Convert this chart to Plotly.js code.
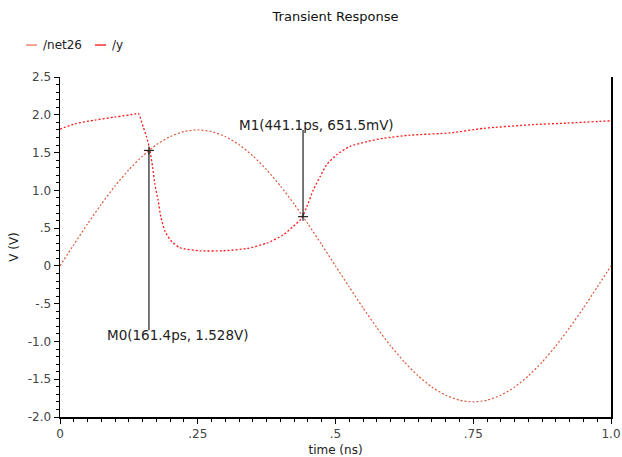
<!DOCTYPE html>
<html>
<head>
<meta charset="utf-8">
<script src="https://cdn.plot.ly/plotly-3.0.1.min.js"></script>
<style>html,body{margin:0;padding:0;background:#fff;}#chart{width:622px;height:457px;}</style>
</head>
<body>
<div id="chart"></div>
<script>
// ---- data ----
const seriesNames = ["/net26", "/y"];

const tNet26 = [0, 0.025, 0.05, 0.075, 0.1, 0.125, 0.15, 0.175, 0.2, 0.225, 0.25, 0.275, 0.3, 0.325, 0.35, 0.375, 0.4, 0.425, 0.45, 0.475, 0.5,
                0.525, 0.55, 0.575, 0.6, 0.625, 0.65, 0.675, 0.7, 0.725, 0.75, 0.775, 0.8, 0.825, 0.85, 0.875, 0.9, 0.925, 0.95, 0.975, 1.0];
const vNet26 = [0, 0.28, 0.556, 0.817, 1.058, 1.273, 1.456, 1.604, 1.712, 1.778, 1.80, 1.778, 1.712, 1.604, 1.456, 1.273, 1.058, 0.817, 0.556, 0.28, 0,
                -0.28, -0.556, -0.817, -1.058, -1.273, -1.456, -1.604, -1.712, -1.778, -1.80, -1.778, -1.712, -1.604, -1.456, -1.273, -1.058, -0.817, -0.556, -0.28, 0];

const tY = [0, 0.027, 0.0635, 0.1, 0.136, 0.142, 0.151, 0.157, 0.163, 0.168, 0.172, 0.178, 0.183, 0.191, 0.203, 0.218, 0.254, 0.296, 0.339, 0.375, 0.405, 0.423, 0.4386,
            0.448, 0.46, 0.472, 0.484, 0.502, 0.526, 0.557, 0.587, 0.635, 0.708, 0.768, 0.859, 0.92, 1.0];
const vY = [1.81, 1.88, 1.93, 1.97, 2.01, 2.02, 1.84, 1.71, 1.54, 1.31, 1.09, 0.87, 0.65, 0.45, 0.32, 0.24, 0.20, 0.20, 0.23, 0.30, 0.41, 0.52, 0.63,
            0.785, 1.01, 1.18, 1.34, 1.47, 1.58, 1.645, 1.69, 1.73, 1.76, 1.82, 1.87, 1.89, 1.92];

// markers
const markerNames = ["M0", "M1"];
const markerT = [0.1614, 0.4411];
const markerV = [1.528, 0.6515];
const markerLabels = ["M0(161.4ps, 1.528V)", "M1(441.1ps, 651.5mV)"];
const markerLabelV = [-0.92, 1.87];
const markerLabelT = [0.214, 0.4655];
const markerLineEndV = [-0.85, 1.80];

// ticks
const xTickVals = [0, 0.25, 0.5, 0.75, 1.0];
const xTickText = ["0", ".25", ".5", ".75", "1.0"];
const yTickVals = [2.5, 2.0, 1.5, 1.0, 0.5, 0, -0.5, -1.0, -1.5, -2.0];
const yTickText = ["2.5", "2.0", "1.5", "1.0", ".5", "0", "-.5", "-1.0", "-1.5", "-2.0"];

const colors = ["#d95a3c", "#ff1a1a"];
const legendColors = ["#ec8a72", "#ff3030"];
const FONT = "DejaVu Sans, Verdana, sans-serif";

const traces = [
  {x: tNet26, y: vNet26, name: seriesNames[0], mode: "lines", line: {color: colors[0], width: 1.2, dash: "2px,2px", shape: "spline", smoothing: 0.6}, showlegend: false, hoverinfo: "skip"},
  {x: tY, y: vY, name: seriesNames[1], mode: "lines", line: {color: colors[1], width: 1.3, dash: "2px,2px", shape: "spline", smoothing: 0.6}, showlegend: false, hoverinfo: "skip"}
];

const shapes = [];
const annotations = [];
for (let i = 0; i < markerT.length; i++) {
  shapes.push({type: "line", xref: "x", yref: "y", x0: markerT[i], x1: markerT[i], y0: markerV[i], y1: markerLineEndV[i], line: {color: "#555", width: 1.6}});
  shapes.push({type: "line", xref: "x", yref: "y", xsizemode: "pixel", xanchor: markerT[i], x0: -5, x1: 5, y0: markerV[i], y1: markerV[i], line: {color: "#222", width: 1.2}});
  shapes.push({type: "line", xref: "x", yref: "y", xsizemode: "pixel", ysizemode: "pixel", xanchor: markerT[i], yanchor: markerV[i], x0: 0, x1: 0, y0: -4, y1: 4, line: {color: "#222", width: 1.2}});
  annotations.push({x: markerLabelT[i], y: markerLabelV[i], xref: "x", yref: "y", text: markerLabels[i], showarrow: false, font: {family: FONT, size: 13.5, color: "#222"}, xanchor: "center", yanchor: "middle"});
}

// legend (drawn manually to match the compact reference legend)
const legendX = [-0.0617, 0.0635];
const legendLineLen = 0.02;
for (let i = 0; i < seriesNames.length; i++) {
  shapes.push({type: "line", xref: "paper", yref: "paper", x0: legendX[i], x1: legendX[i] + legendLineLen, y0: 1.094, y1: 1.094, line: {color: legendColors[i], width: 1.5}});
  annotations.push({x: legendX[i] + legendLineLen + 0.008, y: 1.094, xref: "paper", yref: "paper", text: seriesNames[i], showarrow: false, xanchor: "left", yanchor: "middle", font: {family: FONT, size: 12, color: "#222"}});
}

const axisCommon = {
  showgrid: false, zeroline: false, showline: true, linecolor: "#000", linewidth: 1.5,
  ticks: "outside", ticklen: 5, tickwidth: 1, tickcolor: "#000",
  tickfont: {family: FONT, size: 12, color: "#444"}, tickmode: "array"
};

const layout = {
  width: 622, height: 457,
  margin: {l: 60, r: 11, t: 77, b: 40},
  paper_bgcolor: "#fff", plot_bgcolor: "#fff",
  title: {text: "Transient Response", x: 0.5, xref: "paper", y: 0.963, yref: "container", yanchor: "middle", font: {family: FONT, size: 13, color: "#111"}},
  showlegend: false,
  xaxis: Object.assign({}, axisCommon, {
    range: [0, 1.0], tickvals: xTickVals, ticktext: xTickText,
    minor: {dtick: 0.025, tick0: 0, ticks: "outside", ticklen: 3, tickcolor: "#000"},
    title: {text: "time (ns)", font: {family: FONT, size: 12, color: "#222"}, standoff: 5}
  }),
  yaxis: Object.assign({}, axisCommon, {
    range: [-2.0, 2.5], tickvals: yTickVals, ticktext: yTickText, mirror: true,
    minor: {dtick: 0.1, tick0: 0, ticks: "outside", ticklen: 3, tickcolor: "#000"},
    title: {text: "V (V)", font: {family: FONT, size: 12, color: "#222"}, standoff: 6}
  }),
  shapes: shapes,
  annotations: annotations
};

Plotly.newPlot("chart", traces, layout, {displayModeBar: false, staticPlot: true});
</script>
</body>
</html>
